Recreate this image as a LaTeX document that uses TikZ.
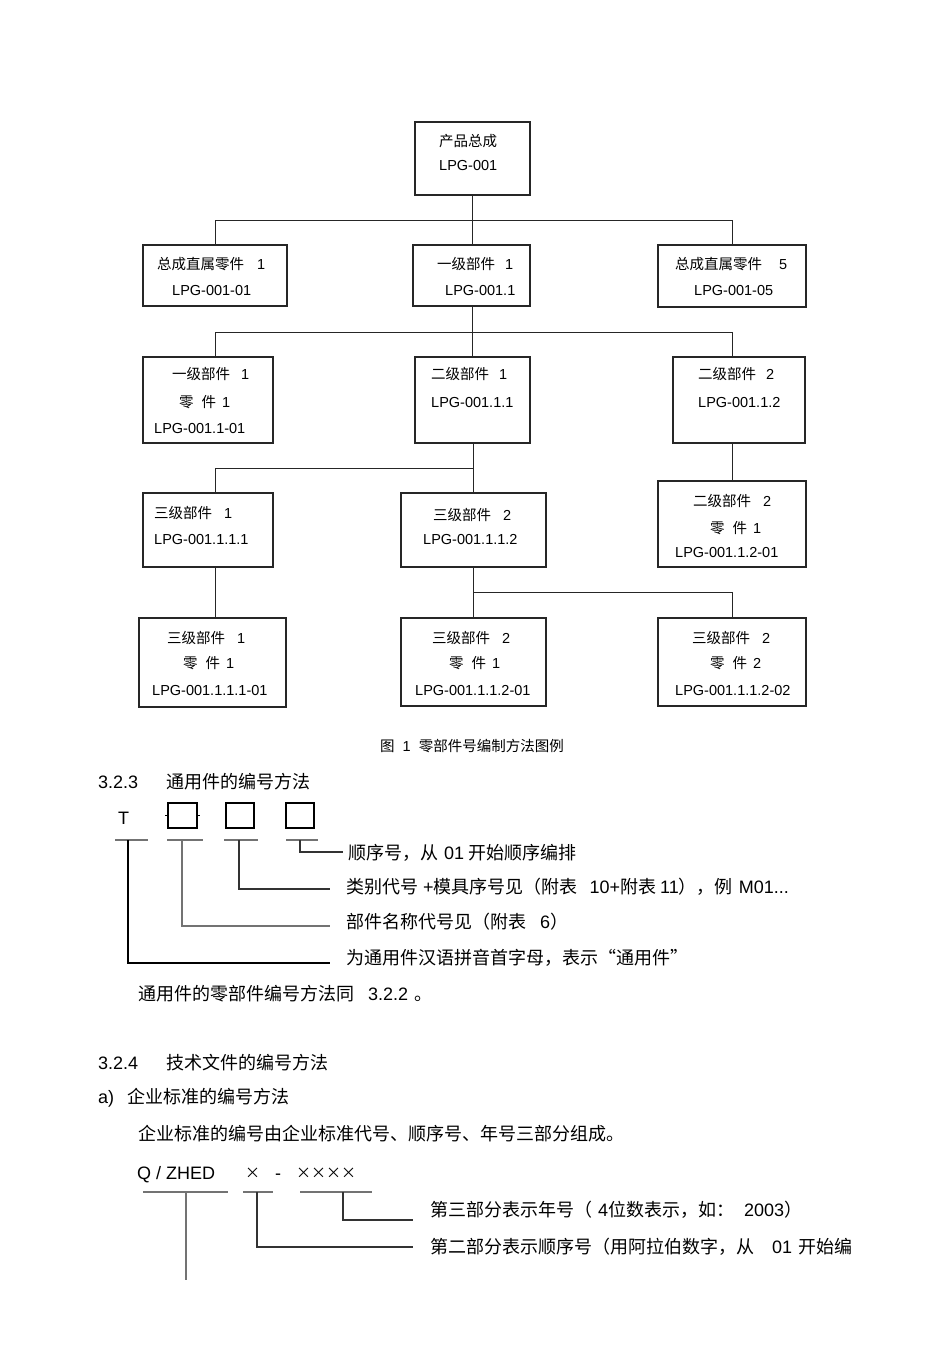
\documentclass[tikz,border=0pt]{standalone}
\usepackage{fontspec}
\setmainfont{Liberation Sans}
\newfontfamily\cjk{Noto Sans CJK SC}
\newcommand\zh[1]{{\cjk #1}}
\newcommand\bx[5]{\node[box, minimum width={#4-#2}, minimum height={#5-#3}] (#1) at ({(#2+#4)/2},{(#3+#5)/2}) {};}
\newcommand\crs{{\cjk\fontsize{15}{15}\selectfont ×}}
\tikzset{
  box/.style={draw=black!85, line width=1.4pt, inner sep=0pt, outer sep=0pt},
  conn/.style={draw=black!85, line width=1pt},
  t/.style={anchor=base west, inner sep=0pt, font=\fontsize{14.5}{14.5}\selectfont, text=black},
  s/.style={anchor=base west, inner sep=0pt, font=\fontsize{18}{18}\selectfont, text=black},
  gl/.style={draw=black!55, line width=1.4pt},
  dl/.style={draw=black!80, line width=1.3pt},
  bl/.style={draw=black, line width=2pt},
  sq/.style={draw=black, line width=1.6pt, inner sep=0pt, outer sep=0pt},
}
\begin{document}
\begin{tikzpicture}[x=1pt,y=-1pt]
\useasboundingbox[fill=white] (0,0) rectangle (950,1345);

% ---------- tree boxes ----------
\bx{top}{415}{122}{530}{195}
\bx{r1a}{143}{245}{287}{306}
\bx{r1b}{413}{245}{530}{306}
\bx{r1c}{658}{245}{806}{307}
\bx{r2a}{143}{357}{273}{443}
\bx{r2b}{415}{357}{530}{443}
\bx{r2c}{673}{357}{805}{443}
\bx{r3a}{143}{493}{273}{567}
\bx{r3b}{401}{493}{546}{567}
\bx{r3c}{658}{481}{806}{567}
\bx{r4a}{139}{618}{286}{707}
\bx{r4b}{401}{618}{546}{706}
\bx{r4c}{658}{618}{806}{706}

% ---------- tree connectors ----------
\coordinate (j1) at (472,220);
\coordinate (j1l) at (215,220);
\coordinate (j1r) at (732,220);
\draw[conn] (j1 |- top.south) -- (j1 |- r1b.north);
\draw[conn] (j1l |- r1a.north) -- (j1l) -- (j1r) -- (j1r |- r1c.north);

\coordinate (j2) at (472,332);
\coordinate (j2l) at (215,332);
\coordinate (j2r) at (732,332);
\draw[conn] (j2 |- r1b.south) -- (j2 |- r2b.north);
\draw[conn] (j2l |- r2a.north) -- (j2l) -- (j2r) -- (j2r |- r2c.north);

\coordinate (j3) at (473,468);
\coordinate (j3l) at (215,468);
\coordinate (j3r) at (732,468);
\draw[conn] (j3 |- r2b.south) -- (j3 |- r3b.north);
\draw[conn] (j3l |- r3a.north) -- (j3l) -- (j3);
\draw[conn] (j3r |- r2c.south) -- (j3r |- r3c.north);

\coordinate (j4) at (473,592);
\coordinate (j4l) at (215,592);
\coordinate (j4r) at (732,592);
\draw[conn] (j4l |- r3a.south) -- (j4l |- r4a.north);
\draw[conn] (j4 |- r3b.south) -- (j4 |- r4b.north);
\draw[conn] (j4) -- (j4r) -- (j4r |- r4c.north);

% ---------- tree texts ----------
\node[t] (t0a) at (439,146) {\zh{产品总成}};
\node[t] (t0b) at (439,170) {LPG-001};

\node[t] (t1a1) at (157,269) {\zh{总成直属零件}\hspace{13pt}1};
\node[t] (t1a2) at (172,295) {LPG-001-01};
\node[t] (t1b1) at (437,269) {\zh{一级部件}\hspace{10pt}1};
\node[t] (t1b2) at (445,295) {LPG-001.1};
\node[t] (t1c1) at (675,269) {\zh{总成直属零件}\hspace{17pt}5};
\node[t] (t1c2) at (694,295) {LPG-001-05};

\node[t] (t2a1) at (172,379) {\zh{一级部件}\hspace{11pt}1};
\node[t] (t2a2) at (179,407) {\zh{零}\hspace{8pt}\zh{件}\hspace{6pt}1};
\node[t] (t2a3) at (154,433) {LPG-001.1-01};
\node[t] (t2b1) at (431,379) {\zh{二级部件}\hspace{10pt}1};
\node[t] (t2b2) at (431,407) {LPG-001.1.1};
\node[t] (t2c1) at (698,379) {\zh{二级部件}\hspace{10pt}2};
\node[t] (t2c2) at (698,407) {LPG-001.1.2};

\node[t] (t3a1) at (154,518) {\zh{三级部件}\hspace{12pt}1};
\node[t] (t3a2) at (154,544) {LPG-001.1.1.1};
\node[t] (t3b1) at (433,520) {\zh{三级部件}\hspace{12pt}2};
\node[t] (t3b2) at (423,544) {LPG-001.1.1.2};
\node[t] (t3c1) at (693,506) {\zh{二级部件}\hspace{12pt}2};
\node[t] (t3c2) at (710,533) {\zh{零}\hspace{8pt}\zh{件}\hspace{6pt}1};
\node[t] (t3c3) at (675,557) {LPG-001.1.2-01};

\node[t] (t4a1) at (167,643) {\zh{三级部件}\hspace{12pt}1};
\node[t] (t4a2) at (183,668) {\zh{零}\hspace{8pt}\zh{件}\hspace{6pt}1};
\node[t] (t4a3) at (152,695) {LPG-001.1.1.1-01};
\node[t] (t4b1) at (432,643) {\zh{三级部件}\hspace{12pt}2};
\node[t] (t4b2) at (449,668) {\zh{零}\hspace{8pt}\zh{件}\hspace{6pt}1};
\node[t] (t4b3) at (415,695) {LPG-001.1.1.2-01};
\node[t] (t4c1) at (692,643) {\zh{三级部件}\hspace{12pt}2};
\node[t] (t4c2) at (710,668) {\zh{零}\hspace{8pt}\zh{件}\hspace{6pt}2};
\node[t] (t4c3) at (675,695) {LPG-001.1.1.2-02};

\node[t] (cap) at (380,751) {\zh{图}\hspace{8pt}1\hspace{8pt}\zh{零部件号编制方法图例}};

% ---------- 3.2.3 ----------
\node[s] (h323) at (98,788) {3.2.3};
\node[s] (h323t) at (166,788) {\zh{通用件的编号方法}};
\node[s] (T) at (118,824) {T};
\node[sq, minimum width=29pt, minimum height=25pt] (b1) at (182.5,815.5) {};
\node[sq, minimum width=28pt, minimum height=25pt] (b2) at (240,815.5) {};
\node[sq, minimum width=28pt, minimum height=25pt] (b3) at (300,815.5) {};
\draw[line width=1.2pt] (b1.west) -- ++(-3,0);
\draw[line width=1.2pt] (b1.east) -- ++(3,0);

\coordinate (uT) at (128,840);
\coordinate (u1) at (182,840);
\coordinate (u2) at (239,840);
\coordinate (u3) at (300,840);
\draw[gl] (115,840) -- (148,840);
\draw[gl] (167,840) -- (203,840);
\draw[gl] (224,840) -- (258,840);
\draw[gl] (286,840) -- (318,840);

\node[s] (d1) at (348,859) {\zh{顺序号，从}\hspace{6pt}01\hspace{4pt}\zh{开始顺序编排}};
\node[s] (d2) at (346,893) {\zh{类别代号}\hspace{5pt}+\zh{模具序号见（附表}\hspace{12pt}10+\zh{附表}\hspace{4pt}11\zh{），例}\hspace{6pt}M01...};
\node[s] (d3) at (346,928) {\zh{部件名称代号见（附表}\hspace{14pt}6\zh{）}};
\node[s] (d4) at (346,964) {\zh{为通用件汉语拼音首字母，表示“通用件”}};

\draw[dl] (u3) |- (343,852) coordinate (e1);
\draw[dl] (u2) |- (330,889) coordinate (e2);
\draw[gl] (u1) |- (330,926) coordinate (e3);
\draw[bl] (uT) |- (330,963) coordinate (e4);

\node[s] (p1) at (138,1000) {\zh{通用件的零部件编号方法同}\hspace{14pt}3.2.2\hspace{6pt}\zh{。}};

% ---------- 3.2.4 ----------
\node[s] (h324) at (98,1069) {3.2.4};
\node[s] (h324t) at (166,1069) {\zh{技术文件的编号方法}};
\node[s] (ha) at (98,1103) {a)};
\node[s] (hat) at (127,1103) {\zh{企业标准的编号方法}};
\node[s] (p2) at (138,1140) {\zh{企业标准的编号由企业标准代号、顺序号、年号三部分组成。}};

\node[s] (q) at (137,1179) {Q / ZHED};
\node[s] (x1) at (245,1178) {\crs};
\node[s] (dash) at (275,1179) {-};
\node[s] (x4) at (296,1178) {\crs\crs\crs\crs};

\draw[gl] (143,1192) -- (228,1192);
\draw[gl] (243,1192) -- (273,1192);
\draw[gl] (300,1192) -- (372,1192);

\node[s] (e31) at (430,1216) {\zh{第三部分表示年号（}\hspace{6pt}4\zh{位数表示，如：}\hspace{10pt}2003\zh{）}};
\node[s] (e32) at (430,1253) {\zh{第二部分表示顺序号（用阿拉伯数字，从}\hspace{18pt}01\hspace{6pt}\zh{开始编}};

\coordinate (v3) at (343,1192);
\coordinate (v2) at (257,1192);
\coordinate (v1) at (186,1192);
\draw[dl] (v3) |- (413,1220) coordinate (f3);
\draw[dl] (v2) |- (413,1247) coordinate (f2);
\draw[gl] (v1) -- (186,1280) coordinate (f1);
\end{tikzpicture}
\end{document}
